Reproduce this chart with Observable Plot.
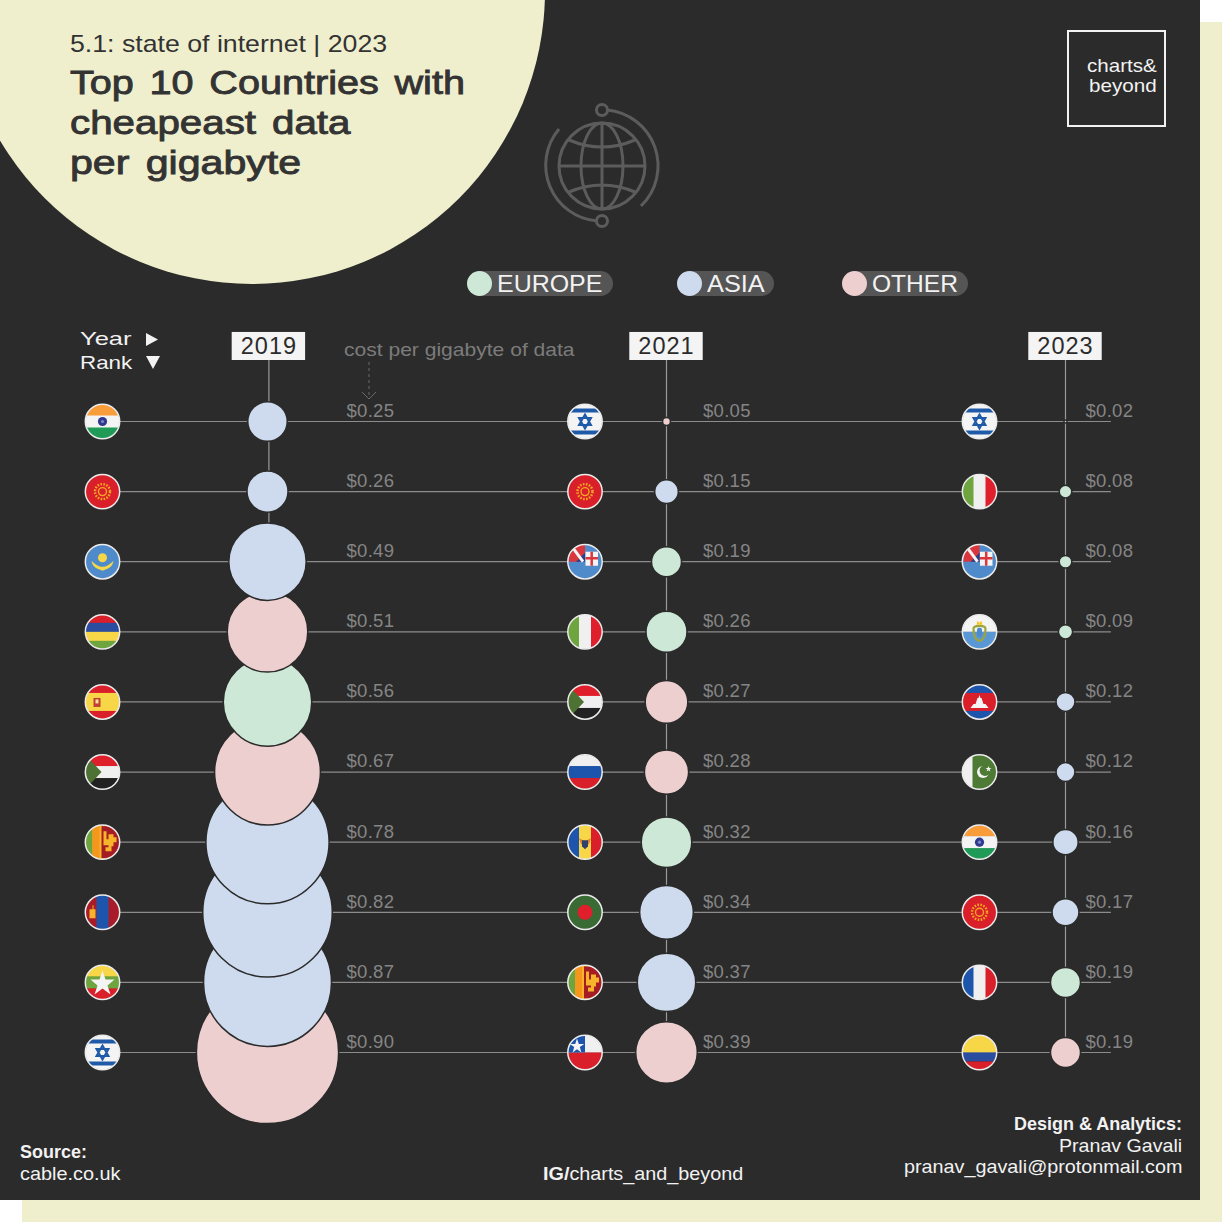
<!DOCTYPE html>
<html lang="en">
  <head>
    <meta charset="UTF-8" />
    <title>Top 10 Countries with cheapeast data per gigabyte</title>
    <style>
      html, body { margin: 0; background: #fff; overflow: hidden; }
      #page { position: relative; width: 1222px; height: 1222px; font-family: "Liberation Sans", sans-serif; }
      #shadow { position: absolute; left: 22px; top: 22px; width: 1200px; height: 1200px; background: #f0efcd; }
      #panel { position: absolute; left: 0; top: 0; width: 1200px; height: 1200px; background: #2b2b2b; overflow: hidden; }
      #blob { position: absolute; left: -41px; top: -302px; width: 586px; height: 586px; border-radius: 50%; background: #f0efcd; }
      #decor, #graph { position: absolute; left: 0; top: 0; }
      #graph svg { display: block; background: transparent; }
      .t { position: absolute; white-space: nowrap; line-height: 1; transform-origin: left center; }
      .r { transform-origin: right center; }
      .head { color: #333; }
      .title { color: #333; font-size: 34px; word-spacing: 4px; -webkit-text-stroke: 0.9px #333; }
      .foot { color: #f2f2f2; font-size: 18.5px; }
      .pill { position: absolute; top: 271px; height: 25px; border-radius: 13px; background: #555; }
      .swatch { position: absolute; top: 271px; width: 25px; height: 25px; border-radius: 50%; }
      .val text { letter-spacing: 0.3px; }
      .yr text { letter-spacing: 1px; }
    </style>
  </head>
  <body>
    <div id="page">
      <div id="shadow"></div>
      <div id="panel"><div id="blob"></div></div>

      <svg id="decor" width="1222" height="1222" fill="none">
        <g stroke="#5c5c5c" stroke-width="3">
          <circle cx="602" cy="166" r="43" />
          <ellipse cx="602" cy="166" rx="21" ry="43" />
          <path d="M602 123V209M559 166H645M569 140Q602 154 635 140M569 192Q602 178 635 192" />
          <path d="M607 110A56 56 0 0 1 641 206M597 221A56 56 0 0 1 559 129" />
          <circle cx="602" cy="110" r="5.5" />
          <circle cx="602" cy="221" r="5.5" />
        </g>
        <rect x="1068" y="31" width="97" height="95" stroke="#f2f2f2" stroke-width="2" />
        <path d="M369 362V398" stroke="#6a6a6a" stroke-dasharray="3 3" />
        <path d="M362 392L369 399L376 392" stroke="#6a6a6a" />
        <path d="M146 333L158 339.5L146 346ZM146 356H160L153 369Z" fill="#f2f2f2" />
      </svg>

      <div class="t head" style="left:70px;top:32px;font-size:24px" data-w="317">5.1: state of internet | 2023</div>
      <div class="t title" style="left:70px;top:65px" data-w="395">Top 10 Countries with</div>
      <div class="t title" style="left:70px;top:105px" data-w="281">cheapeast data</div>
      <div class="t title" style="left:70px;top:145px" data-w="231">per gigabyte</div>

      <div class="t foot" style="left:1087px;top:57px" data-w="70">charts&amp;</div>
      <div class="t foot" style="left:1089px;top:77px" data-w="68">beyond</div>

      <div class="pill" style="left:470px;width:143px"></div>
      <div class="swatch" style="left:467px;background:#cde8d6"></div>
      <div class="t foot" style="left:497px;top:272px;font-size:24px" data-w="105">EUROPE</div>
      <div class="pill" style="left:681px;width:93px"></div>
      <div class="swatch" style="left:677px;background:#cedbee"></div>
      <div class="t foot" style="left:707px;top:272px;font-size:24px" data-w="58">ASIA</div>
      <div class="pill" style="left:846px;width:122px"></div>
      <div class="swatch" style="left:842px;background:#eecfd0"></div>
      <div class="t foot" style="left:872px;top:272px;font-size:24px" data-w="86">OTHER</div>

      <div class="t foot" style="left:80px;top:330px" data-w="51">Year</div>
      <div class="t foot" style="left:80px;top:354px" data-w="52">Rank</div>
      <div class="t" style="left:344px;top:341px;font-size:18.5px;color:#7c7c7c" data-w="231">cost per gigabyte of data</div>

      <div class="t foot" style="left:20px;top:1143px;font-weight:bold" data-w="67">Source:</div>
      <div class="t foot" style="left:20px;top:1165px" data-w="101">cable.co.uk</div>
      <div class="t foot" style="left:543px;top:1165px" data-w="200"><b>IG/</b>charts_and_beyond</div>
      <div class="t foot r" style="right:40px;top:1115px;font-weight:bold" data-w="168">Design &amp; Analytics:</div>
      <div class="t foot r" style="right:40px;top:1137px" data-w="123">Pranav Gavali</div>
      <div class="t foot r" style="right:40px;top:1158px" data-w="278">pranav_gavali@protonmail.com</div>

      <div id="graph"></div>
    </div>

    <script src="https://cdn.jsdelivr.net/npm/d3@7"></script>
    <script src="https://cdn.jsdelivr.net/npm/@observablehq/plot@0.6"></script>

    <script>
      const years = [2019, 2021, 2023];
      const ranks = [1, 2, 3, 4, 5, 6, 7, 8, 9, 10];

      const countries2019 = ["India", "Kyrgyzstan", "Kazakhstan", "Mauritius", "Spain", "Sudan", "Sri Lanka", "Mongolia", "Myanmar", "Israel"];
      const countries2021 = ["Israel", "Kyrgyzstan", "Fiji", "Italy", "Sudan", "Russia", "Moldova", "Bangladesh", "Sri Lanka", "Chile"];
      const countries2023 = ["Israel", "Italy", "Fiji", "San Marino", "Cambodia", "Pakistan", "India", "Kyrgyzstan", "France", "Colombia"];

      const cost2019 = [0.25, 0.26, 0.49, 0.51, 0.56, 0.67, 0.78, 0.82, 0.87, 0.9];
      const cost2021 = [0.05, 0.15, 0.19, 0.26, 0.27, 0.28, 0.32, 0.34, 0.37, 0.39];
      const cost2023 = [0.02, 0.08, 0.08, 0.09, 0.12, 0.12, 0.16, 0.17, 0.19, 0.19];

      // the reference draws the $0.87 circle smaller than the $0.82 one, so sizes are read separately
      const bubble2019 = [0.25, 0.26, 0.49, 0.51, 0.56, 0.67, 0.78, 0.82, 0.81, 0.9];

      const region2019 = ["Asia", "Asia", "Asia", "Other", "Europe", "Other", "Asia", "Asia", "Asia", "Other"];
      const region2021 = ["Other", "Asia", "Europe", "Europe", "Other", "Other", "Europe", "Asia", "Asia", "Other"];
      const region2023 = ["Other", "Europe", "Europe", "Europe", "Asia", "Asia", "Asia", "Asia", "Europe", "Other"];

      const regions = ["Europe", "Asia", "Other"];
      const regionColors = ["#cde8d6", "#cedbee", "#eecfd0"];

      // flags are drawn in a 36x36 box, the image mark clips them round
      const stripesH = (...c) => c.map((f, i) => `<rect y="${(i * 36) / c.length}" width="36" height="${36 / c.length + 0.5}" fill="${f}"/>`).join("");
      const stripesV = (...c) => c.map((f, i) => `<rect x="${(i * 36) / c.length}" width="${36 / c.length + 0.5}" height="36" fill="${f}"/>`).join("");
      const kyrgyzSun = `<circle cx="18" cy="18" r="7.5" fill="none" stroke="#f5a623" stroke-width="2.5" stroke-dasharray="1.6 1.4"/><circle cx="18" cy="18" r="4" fill="none" stroke="#f5a623" stroke-width="1.4"/>`;
      const flagArt = {
        India: stripesH("#f99d3a", "#f4f4f4", "#1f9a57") + `<circle cx="18" cy="18" r="4.6" fill="#2f3a8f"/><circle cx="18" cy="18" r="1.6" fill="#7d86c9"/>`,
        Kyrgyzstan: `<rect width="36" height="36" fill="#d91f2a"/>` + kyrgyzSun,
        Kazakhstan: `<rect width="36" height="36" fill="#4f8bcb"/><circle cx="18" cy="14" r="4.5" fill="#f7d648"/><path d="M7 17Q18 29 29 17Q28 23 23 25L18 27L13 25Q8 23 7 17Z" fill="#f7d648"/>`,
        Mauritius: stripesH("#d91f2a", "#2a4da0", "#f7d648", "#6ea53f"),
        Spain: stripesH("#d91f2a", "#f7d648", "#f7d648", "#d91f2a") + `<rect x="9" y="14" width="7" height="9" fill="#c2402f"/><rect x="11" y="15.5" width="3" height="4" fill="#f4e0a0"/>`,
        Sudan: stripesH("#e01f2d", "#f0f0f0", "#222") + `<path d="M0 0L17 18L0 36Z" fill="#4d7234"/>`,
        "Sri Lanka": `<rect width="36" height="36" fill="#f7b32a"/><rect width="8" height="36" fill="#6ea53f"/><rect x="8" width="7" height="36" fill="#f5971c"/><rect x="17" y="2" width="19" height="32" fill="#a51c24"/><path d="M19 7H22V15H24V10H29V13H32V18H29V22H27V27H21V23H24V21H19Z" fill="#f7b32a"/>`,
        Mongolia: stripesV("#a81c2a", "#1e55ac", "#a81c2a") + `<path d="M5 24V15H8V11H9V15H11V24Z" fill="#f7b32a"/>`,
        Myanmar: stripesH("#f7d648", "#6ea53f", "#d91f2a") + `<path d="M18 6L21 15H30L23 21L26 30L18 24L10 30L13 21L6 15H15Z" fill="#f4f4f4"/>`,
        Israel: `<rect width="36" height="36" fill="#f4f4f4"/><rect y="5" width="36" height="4" fill="#1e5aa8"/><rect y="27" width="36" height="4" fill="#1e5aa8"/><path d="M18 11L24 21.5H12ZM18 25L12 14.5H24Z" fill="none" stroke="#1e5aa8" stroke-width="2"/>`,
        Fiji: `<rect width="36" height="36" fill="#4f8bcb"/><rect x="2" width="16" height="18" fill="#d9363e"/><path d="M9 18L18 18L18 9Z" fill="#27408b"/><path d="M5 3L16 18" stroke="#f4f4f4" stroke-width="3"/><rect x="18.5" y="8" width="12.5" height="14" fill="#f4f4f4"/><path d="M24.7 8V22M18.5 14.5H31" stroke="#d9363e" stroke-width="2.5"/>`,
        Italy: stripesV("#6ea53f", "#f0f0f0", "#e01f2d"),
        Russia: stripesH("#f0f0f0", "#1e55ac", "#d91f2a"),
        Moldova: stripesV("#1e55ac", "#f7d648", "#d91f2a") + `<path d="M12 14L18 17L24 14L22 20H14Z" fill="#d9822b"/><path d="M15 16H21V22L18 25L15 22Z" fill="#33406b"/>`,
        Bangladesh: `<rect width="36" height="36" fill="#3a6b35"/><circle cx="18" cy="18" r="7.5" fill="#e01f2d"/>`,
        Chile: `<rect width="36" height="18" fill="#f0f0f0"/><rect y="18" width="36" height="18" fill="#d91f2a"/><rect width="18" height="18" fill="#1e55ac"/><path d="M10 4L11.8 9.4H17.2L12.8 12.6L14.4 18L10 14.8L5.6 18L7.2 12.6L2.8 9.4H8.2Z" fill="#f4f4f4"/>`,
        "San Marino": `<rect width="36" height="18" fill="#f4f4f4"/><rect y="18" width="36" height="18" fill="#5a97d5"/><path d="M12 15Q12 26 18 27Q24 26 24 15Q24 12 18 12Q12 12 12 15Z" fill="none" stroke="#9aa53a" stroke-width="2.2"/><rect x="15.5" y="14" width="5" height="9" rx="2" fill="#4f8bcb"/><path d="M15 11L16 7L18 9L20 7L21 11Z" fill="#f7c62a"/>`,
        Cambodia: stripesH("#1e55ac", "#d91f2a", "#d91f2a", "#1e55ac") + `<path d="M9 24L12 20H14L16 14H17L18 11L19 14H20L22 20H24L27 24Z" fill="#f4f4f4"/>`,
        Pakistan: `<rect width="36" height="36" fill="#4d7a34"/><rect width="11" height="36" fill="#f0f0f0"/><circle cx="21.5" cy="18" r="6" fill="#f4f4f4"/><circle cx="23.5" cy="16.5" r="5.4" fill="#4d7a34"/><path d="M27 12L27.8 14H30L28.2 15.3L28.9 17.4L27 16.1L25.1 17.4L25.8 15.3L24 14H26.2Z" fill="#f4f4f4"/>`,
        France: stripesV("#1e55ac", "#f0f0f0", "#d91f2a"),
        Colombia: `<rect width="36" height="18" fill="#f7d648"/><rect y="18" width="36" height="9" fill="#2a4da0"/><rect y="27" width="36" height="9" fill="#d91f2a"/>`
      };
      const flagSrc = (c) =>
        "data:image/svg+xml," +
        encodeURIComponent(`<svg xmlns="http://www.w3.org/2000/svg" viewBox="0 0 36 36" width="36" height="36">${flagArt[c]}</svg>`);

      // pixel offset of the flag and of the label from each year's circles
      const flagOffset = { 2019: -165, 2021: -81.5, 2023: -86 };
      const labelOffset = { 2019: 79, 2021: 36.5, 2023: 20 };
      // the 2019 line and box sit slightly right of the circles
      const lineYear = (d) => (d === 2019 ? d + 0.007 : d);

      const columns = [
        [2019, countries2019, cost2019, region2019, bubble2019],
        [2021, countries2021, cost2021, region2021, cost2021],
        [2023, countries2023, cost2023, region2023, cost2023]
      ];
      const table = columns.flatMap(([year, names, costs, regs, sizes]) =>
        ranks.map((rank, i) => ({ year, rank, country: names[i], cost: costs[i], region: regs[i], size: sizes[i] }))
      );

      const plot = Plot.plot({
        width: 1222,
        height: 1222,
        margin: 0,
        style: { background: "transparent", fontFamily: "Liberation Sans" },
        x: { domain: [2019, 2023], range: [267, 1065], axis: null },
        y: { domain: [1, 10], range: [421, 1052], axis: null },
        r: { type: "linear", domain: [0, 1], range: [0, 79] },
        color: { domain: regions, range: regionColors },
        marks: [
          Plot.ruleY(ranks, { x1: 2018.26, x2: 2023.23, stroke: "#8c8c8c", strokeWidth: 1.2 }),
          Plot.ruleX(years, { x: lineYear, y1: 0.13, y2: 10, stroke: "#9a9a9a", strokeWidth: 1.2 }),
          Plot.dot(table, {
            x: "year",
            y: "rank",
            r: "size",
            fill: "region",
            stroke: "#2b2b2b",
            strokeWidth: 1.5,
            sort: (d) => -d.rank
          }),
          ...years.map((year) =>
            Plot.image(table.filter((d) => d.year === year), {
              x: "year",
              y: "rank",
              dx: flagOffset[year],
              src: (d) => flagSrc(d.country),
              width: 36,
              height: 36,
              r: 17
            })
          ),
          ...years.map((year) =>
            Plot.dot(table.filter((d) => d.year === year), {
              x: "year",
              y: "rank",
              dx: flagOffset[year],
              r: 17.2,
              stroke: "#ececec",
              strokeWidth: 1.5
            })
          ),
          ...years.map((year) =>
            Plot.text(table.filter((d) => d.year === year), {
              className: "val",
              x: "year",
              y: "rank",
              dx: labelOffset[year],
              dy: -10.5,
              text: (d) => "$" + d.cost.toFixed(2),
              textAnchor: "start",
              fill: "#858585",
              fontSize: 18.5
            })
          ),
          Plot.rect(years, {
            x1: (d) => lineYear(d) - 0.184,
            x2: (d) => lineYear(d) + 0.184,
            y1: -0.27,
            y2: 0.13,
            fill: "#f4f4f4"
          }),
          Plot.text(years, {
            className: "yr",
            x: lineYear,
            y: -0.07,
            text: (d) => String(d),
            fill: "#2b2b2b",
            fontSize: 23.5
          })
        ]
      });

      document.querySelector("#graph").append(plot);

      // the source type is wider than any installed face, so stretch each label to its measured width
      document.querySelectorAll("[data-w]").forEach((el) => {
        el.style.transform = `scaleX(${+el.dataset.w / el.offsetWidth})`;
      });
    </script>
  </body>
</html>
